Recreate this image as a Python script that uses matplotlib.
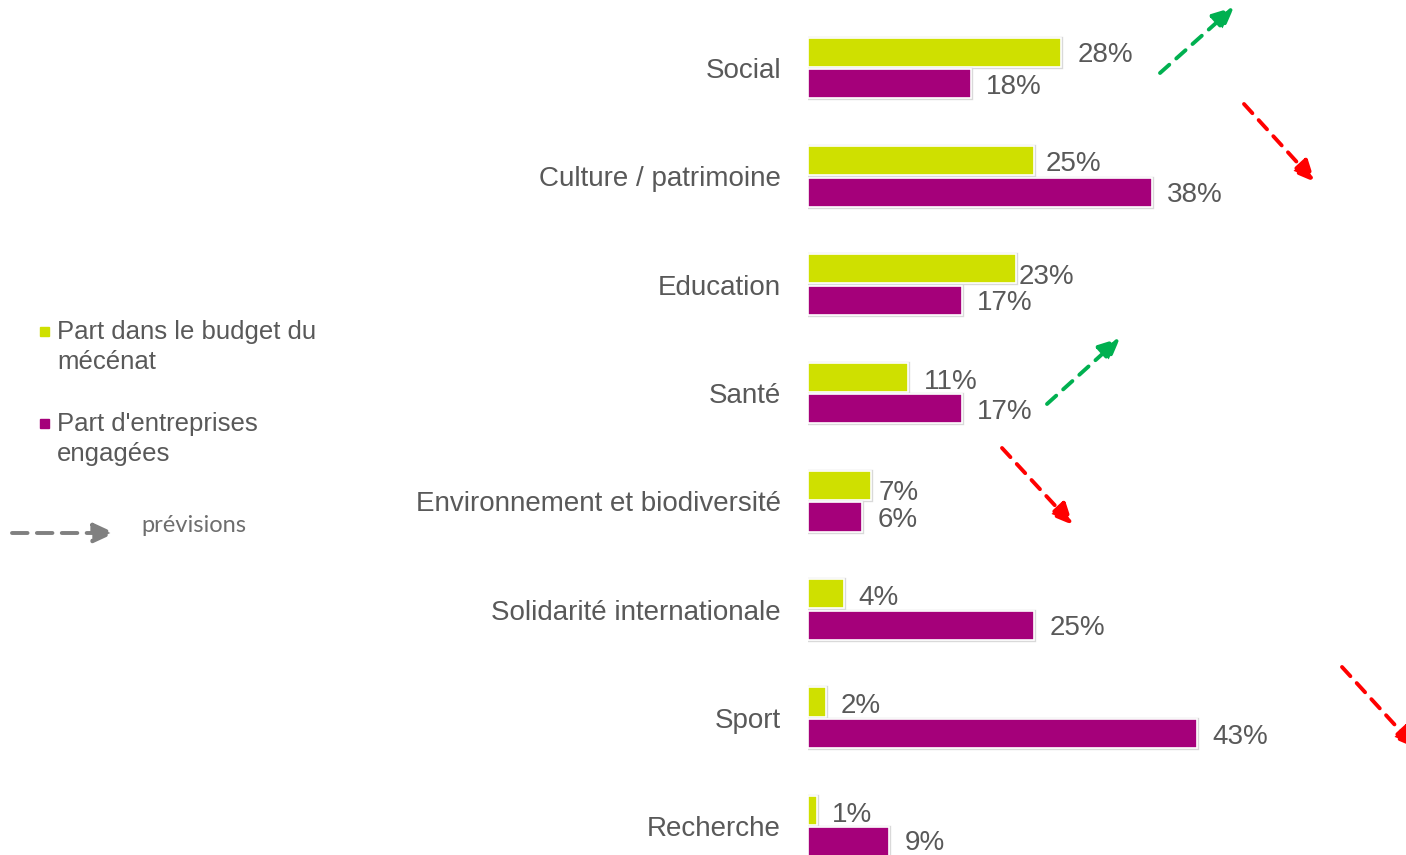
#!/usr/bin/env python3
"""
Mécénat : part du budget et part d'entreprises engagées par domaine
"""

import matplotlib
matplotlib.use("Agg")
import matplotlib.pyplot as plt
from matplotlib.transforms import offset_copy

# données
categories = ["Social", "Culture / patrimoine", "Education", "Santé",
              "Environnement et biodiversité", "Solidarité internationale",
              "Sport", "Recherche"]
budget = [28, 25, 23, 11, 7, 4, 2, 1]
entreprises = [18, 38, 17, 17, 6, 25, 43, 9]
legend_labels = ["Part dans le budget du\nmécénat", "Part d'entreprises\nengagées"]
forecast_label = "prévisions"

VERT = "#cfe000"
VIOLET = "#a5007a"
GRIS = "#595959"

W, H = 1406, 855
fig = plt.figure(figsize=(W / 100, H / 100), dpi=100)
plt.rcParams['font.family'] = ['Liberation Sans', 'DejaVu Sans']

# axe : origine des barres à x=808 px, 9.05 px par point de %
x0 = 808
px_per = 9.05
ax = fig.add_axes([x0 / W, 0, 1 - x0 / W, 1])
ax.set_xlim(0, (W - x0) / px_per)
pitch = 108.3
ax.set_ylim((H - 68) / pitch, -68 / pitch)
ax.axis("off")

n = len(categories)
y = list(range(n))
h = 0.268
off = 0.146
y_b = [i - off for i in y]
y_e = [i + off for i in y]

for ys, vals, col in [(y_b, budget, VERT), (y_e, entreprises, VIOLET)]:
    ax.barh(ys, vals, height=h, color=col, edgecolor="#d9d9d9", linewidth=2.4)
    ax.barh(ys, vals, height=h, color=col, edgecolor="white", linewidth=1.2)

# étiquettes de valeur (décalages en pixels)
lab_dx_b = [16, 11, 2, 16, 7, 14, 15, 15]
lab_dy_b = [3, 4, 8, 5, 8, 4, 4, 5]
lab_dy_e = [3, 3, 3, 3, 3, 3, 3, 1]
for i in range(n):
    t = offset_copy(ax.transData, fig=fig, x=lab_dx_b[i] * 0.72, y=-lab_dy_b[i] * 0.72, units="points")
    ax.text(budget[i], y_b[i], f"{budget[i]}%", transform=t, ha="left", va="center",
            fontsize=20, color=GRIS)
    t = offset_copy(ax.transData, fig=fig, x=15 * 0.72, y=-lab_dy_e[i] * 0.72, units="points")
    ax.text(entreprises[i], y_e[i], f"{entreprises[i]}%", transform=t, ha="left", va="center",
            fontsize=20, color=GRIS)

# libellés des catégories
for i, c in enumerate(categories):
    t = offset_copy(ax.transData, fig=fig, x=-27 * 0.72, y=-3 * 0.72, units="points")
    ax.text(0, i, c, transform=t, ha="right", va="center", fontsize=20, color=GRIS)

# flèches de prévision (coordonnées pixel de la figure)
def px(xp, yp):
    return (xp / W, 1 - yp / H)

fleches = [
    ((1160, 73), (1234, 7), "#00b050"),
    ((1244, 104), (1315, 182), "#ff0000"),
    ((1047, 404), (1120, 338), "#00b050"),
    ((1002, 448), (1073, 525), "#ff0000"),
    ((1342, 667), (1416, 748), "#ff0000"),
]
for (xa, ya), (xb, yb), col in fleches:
    fig.add_artist(matplotlib.patches.FancyArrowPatch(
        px(xa, ya), px(xb, yb), transform=fig.transFigure,
        arrowstyle="-|>,head_length=13,head_width=6", color=col,
        linestyle=(0, (3.2, 2.4)), linewidth=2.8, shrinkA=0, shrinkB=0,
        clip_on=False))

# légende
fig.patches.append(matplotlib.patches.Rectangle(px(40, 336), 9 / W, 9 / H,
                   transform=fig.transFigure, color=VERT))
fig.patches.append(matplotlib.patches.Rectangle(px(40, 428), 9 / W, 9 / H,
                   transform=fig.transFigure, color=VIOLET))
fig.text(57 / W, 1 - 320 / H, legend_labels[0], ha="left", va="top", fontsize=18.5,
         color=GRIS, linespacing=1.3)
fig.text(57 / W, 1 - 412 / H, legend_labels[1], ha="left", va="top", fontsize=18.5,
         color=GRIS, linespacing=1.3)
fig.add_artist(matplotlib.patches.FancyArrowPatch(
    px(12, 533), px(115, 533), transform=fig.transFigure,
    arrowstyle="-|>,head_length=13,head_width=6", color="#808080",
    linestyle=(0, (4.0, 2.4)), linewidth=2.8, shrinkA=0, shrinkB=0))
fig.text(141 / W, 1 - 525 / H, forecast_label, ha="left", va="center", fontsize=17,
         color="#6e6e6e", family=["Lato", "DejaVu Sans"])

fig.savefig("out.png", dpi=100)
